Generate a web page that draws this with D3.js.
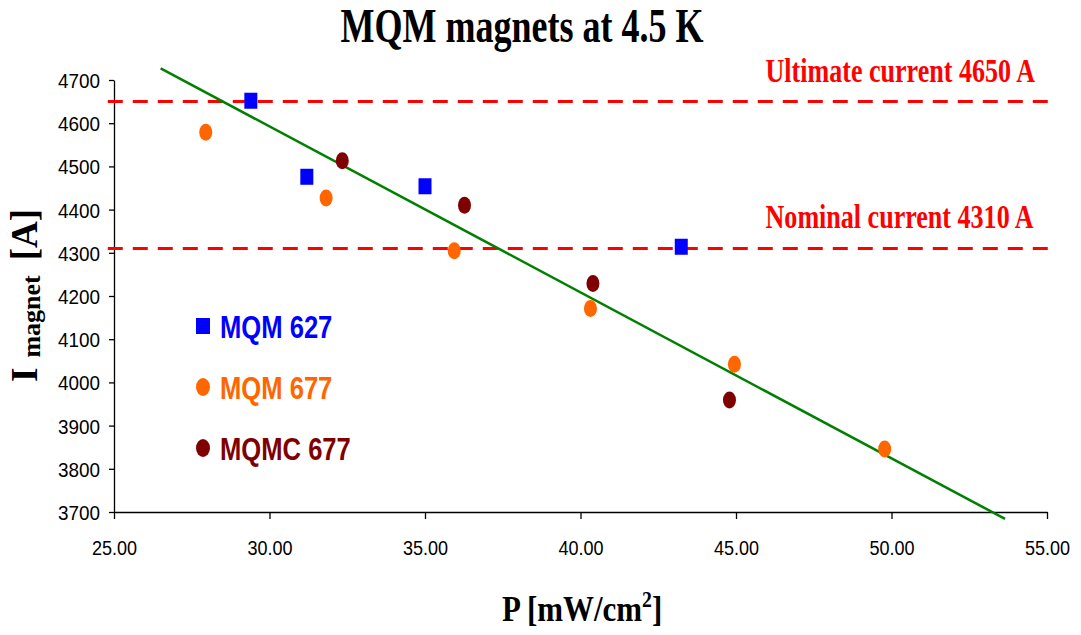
<!DOCTYPE html>
<html>
<head>
<meta charset="utf-8">
<script src="https://cdn.jsdelivr.net/npm/d3@7"></script>
<style>
  body { margin: 0; background: #fff; }
</style>
</head>
<body>
<div id="chart"></div>
<script>
// values
const mqm627P = [29.40, 31.20, 35.00, 43.24];
const mqm627I = [4652, 4476, 4454, 4314];
const mqm677P = [27.95, 31.82, 35.94, 40.32, 44.95, 49.78];
const mqm677I = [4579, 4427, 4305, 4171, 4042, 3846];
const mqmc677P = [32.34, 36.27, 40.40, 44.79];
const mqmc677I = [4513, 4410, 4229, 3959];
const fitP = [26.5, 53.65];
const fitI = [4727, 3684];
const limitLabels = ["Ultimate current 4650 A", "Nominal current 4310 A"];
const limitValues = [4650, 4310];
const seriesNames = ["MQM 627", "MQM 677", "MQMC 677"];
const xTicks = [25, 30, 35, 40, 45, 50, 55];
const yTicks = [3700, 3800, 3900, 4000, 4100, 4200, 4300, 4400, 4500, 4600, 4700];

const w = 1081;
const h = 635;
const padLeft = 114, padRight = 1047, padTop = 80, padBottom = 512;
const colors = ["#0000ff", "#ff6600", "#7f0000"];
const serif = "'Liberation Serif', 'Times New Roman', serif";
const sans = "'Liberation Sans', Arial, sans-serif";

const xScale = d3.scaleLinear().domain([25, 55]).range([padLeft, padRight]);
const yScale = d3.scaleLinear().domain([3700, 4700]).range([padBottom, padTop]);

const svg = d3.select("#chart")
  .append("svg")
  .attr("width", w)
  .attr("height", h)
  .style("background", "white");

// title
svg.append("text")
  .attr("transform", "translate(522,42) scale(0.75,1)")
  .attr("text-anchor", "middle")
  .style("font-family", serif)
  .style("font-weight", "bold")
  .style("font-size", "48px")
  .text("MQM magnets at 4.5 K");

// axes
const sxY = 0.9, sxX = 0.86;
const yAxis = d3.axisLeft(yScale).tickValues(yTicks).tickSize(5).tickSizeOuter(0).tickFormat(d3.format("d"));
const gy = svg.append("g")
  .attr("transform", "translate(" + padLeft + ",0)")
  .call(yAxis);
gy.selectAll("text")
  .attr("x", -14 / sxY)
  .attr("dy", "0.36em")
  .attr("transform", "scale(" + sxY + ",1)")
  .style("font-family", sans)
  .style("font-size", "21px")
  .style("fill", "#000");

const xAxis = d3.axisBottom(xScale).tickValues(xTicks).tickSize(7).tickSizeOuter(0).tickFormat(d3.format(".2f"));
const gx = svg.append("g")
  .attr("transform", "translate(0," + padBottom + ")")
  .call(xAxis);
gx.selectAll("text")
  .attr("y", 43)
  .attr("dy", 0)
  .attr("transform", "scale(" + sxX + ",1)")
  .style("font-family", sans)
  .style("font-size", "21px")
  .style("fill", "#000");

svg.selectAll(".domain, .tick line")
  .attr("stroke", "#000")
  .attr("stroke-width", 1.3);

// limit lines
limitValues.forEach((v, i) => {
  svg.append("line")
    .attr("x1", xScale(24.8))
    .attr("x2", xScale(55.25))
    .attr("y1", yScale(v))
    .attr("y2", yScale(v))
    .attr("stroke", "#ff0000")
    .attr("stroke-width", 3)
    .attr("stroke-dasharray", "15,10");
  svg.append("text")
    .attr("transform", "translate(" + xScale(45.95) + "," + (yScale(v) - 20) + ") scale(0.79,1)")
    .style("font-family", serif)
    .style("font-weight", "bold")
    .style("font-size", "33px")
    .style("fill", "#ff0000")
    .text(limitLabels[i]);
});

// fit line
svg.append("line")
  .attr("x1", xScale(fitP[0]))
  .attr("y1", yScale(fitI[0]))
  .attr("x2", xScale(fitP[1]))
  .attr("y2", yScale(fitI[1]))
  .attr("stroke", "#008000")
  .attr("stroke-width", 2.5);

// points
svg.selectAll("rect.mqm627")
  .data(mqm627P)
  .enter()
  .append("rect")
  .attr("class", "mqm627")
  .attr("x", d => xScale(d) - 6.5)
  .attr("y", (d, i) => yScale(mqm627I[i]) - 8)
  .attr("width", 13)
  .attr("height", 16)
  .attr("fill", colors[0]);

svg.selectAll("ellipse.mqm677")
  .data(mqm677P)
  .enter()
  .append("ellipse")
  .attr("class", "mqm677")
  .attr("cx", d => xScale(d))
  .attr("cy", (d, i) => yScale(mqm677I[i]))
  .attr("rx", 6.5)
  .attr("ry", 8.5)
  .attr("fill", colors[1]);

svg.selectAll("ellipse.mqmc677")
  .data(mqmc677P)
  .enter()
  .append("ellipse")
  .attr("class", "mqmc677")
  .attr("cx", d => xScale(d))
  .attr("cy", (d, i) => yScale(mqmc677I[i]))
  .attr("rx", 6.5)
  .attr("ry", 8.5)
  .attr("fill", colors[2]);

// legend
seriesNames.forEach((name, i) => {
  const ly = 326 + i * 61;
  if (i === 0) {
    svg.append("rect")
      .attr("x", 196).attr("y", ly - 8)
      .attr("width", 14).attr("height", 16)
      .attr("fill", colors[i]);
  } else {
    svg.append("ellipse")
      .attr("cx", 203).attr("cy", ly)
      .attr("rx", 7).attr("ry", 9)
      .attr("fill", colors[i]);
  }
  svg.append("text")
    .attr("transform", "translate(220," + (ly + 12) + ") scale(0.8,1)")
    .style("font-family", sans)
    .style("font-weight", "bold")
    .style("font-size", "32px")
    .style("fill", colors[i])
    .text(name);
});

// axis titles
const yl = svg.append("text")
  .attr("transform", "translate(37,382) rotate(-90)")
  .style("font-family", serif)
  .style("font-weight", "bold")
  .style("font-size", "37px");
yl.append("tspan").text("I");
yl.append("tspan").attr("dx", 10).attr("dy", 3).style("font-size", "26px").text("magnet");
yl.append("tspan").attr("dx", 15).attr("dy", -3).text("[A]");

const xl = svg.append("text")
  .attr("transform", "translate(502,621) scale(0.86,1)")
  .style("font-family", serif)
  .style("font-weight", "bold")
  .style("font-size", "36px");
xl.append("tspan").text("P [mW/cm");
xl.append("tspan").attr("dy", -14).style("font-size", "23px").text("2");
xl.append("tspan").attr("dy", 14).text("]");
</script>
</body>
</html>
